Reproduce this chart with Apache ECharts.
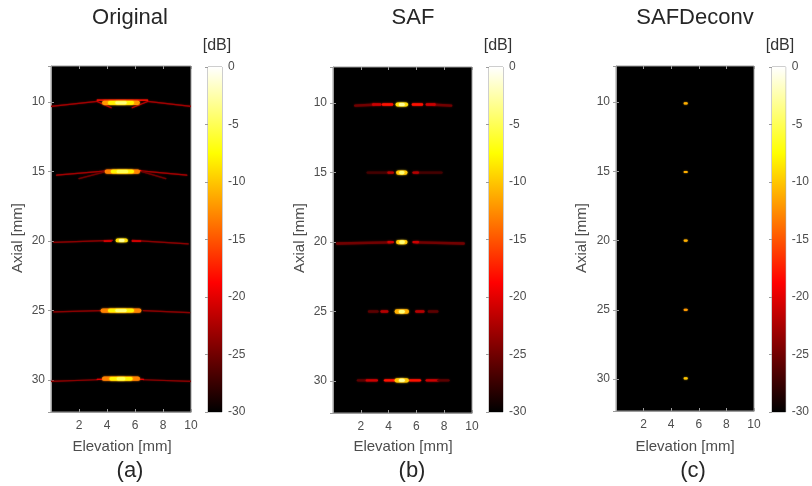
<!DOCTYPE html>
<html>
<head>
<meta charset="utf-8">
<script src="https://cdn.jsdelivr.net/npm/echarts@6/dist/echarts.min.js"></script>
<style>
  html, body { margin: 0; padding: 0; background: #ffffff; }
  #chart { width: 812px; height: 486px; }
</style>
</head>
<body>
<div id="chart"></div>
<script>
// Hot colour map, evenly spaced from -30 dB (black) up to 0 dB (white)
const hotColors = ['#000000', '#550000', '#aa0000', '#ff0000', '#ff5500', '#ffaa00', '#ffff00', '#ffff80', '#ffffff'];
const dbRange = [-30, 0];
const elevationRange = [0, 10];
const axialRange = [7.4, 32.3];

const panelTitles = ['Original', 'SAF', 'SAFDeconv'];
const panelCaptions = ['(a)', '(b)', '(c)'];

// Every feature is a streak in mm: [elevation1, axial1, elevation2, axial2, level dB]

// Original: side-lobe tails and wings around each point target
const originalTails = [
  [0.0, 10.30, 3.3, 9.95, -23], [6.9, 9.95, 10.0, 10.30, -23],
  [3.3, 9.95, 4.3, 10.40, -22], [6.9, 9.95, 5.8, 10.40, -22],
  [3.3, 9.85, 6.9, 9.85, -18],
  [0.4, 15.25, 4.0, 14.95, -23], [6.4, 14.95, 9.7, 15.25, -23],
  [2.0, 15.50, 3.9, 15.00, -25], [6.5, 15.00, 8.2, 15.50, -25],
  [3.9, 14.92, 6.4, 14.92, -19],
  [0.2, 20.10, 4.4, 19.95, -24], [5.8, 19.95, 9.8, 20.20, -24],
  [3.8, 20.00, 4.3, 20.00, -20], [5.8, 20.00, 6.4, 20.00, -20],
  [0.2, 25.10, 3.6, 25.00, -24], [6.6, 25.00, 9.9, 25.15, -24],
  [0.0, 30.10, 3.3, 29.98, -24], [6.6, 29.98, 10.0, 30.10, -24],
  [3.3, 29.95, 6.6, 29.95, -20]
];
// Original: main lobes, broad to narrow
const originalCores = [
  [3.8, 10.05, 6.2, 10.05, -12], [4.2, 10.05, 5.8, 10.05, -8], [4.7, 10.05, 5.3, 10.05, -4],
  [4.0, 15.00, 6.2, 15.00, -13], [4.4, 15.00, 5.8, 15.00, -8], [4.8, 15.00, 5.4, 15.00, -5],
  [4.75, 19.95, 5.35, 19.95, -9], [4.95, 19.95, 5.15, 19.95, -3],
  [3.7, 25.00, 6.3, 25.00, -13], [4.2, 25.00, 5.8, 25.00, -8], [4.7, 25.00, 5.3, 25.00, -4],
  [3.8, 29.90, 6.2, 29.90, -13], [4.3, 29.90, 5.7, 29.90, -8], [4.8, 29.90, 5.2, 29.90, -5]
];

// SAF: grating lobes either side of each target
const safLobes = [
  [1.6, 10.18, 2.9, 10.12, -25], [7.3, 10.12, 8.5, 10.18, -25],
  [2.9, 10.10, 3.4, 10.10, -21], [3.6, 10.10, 4.25, 10.10, -18],
  [5.75, 10.10, 6.4, 10.10, -18], [6.75, 10.10, 7.3, 10.10, -21],
  [2.5, 15.00, 4.0, 15.00, -27], [6.0, 15.00, 7.8, 15.00, -27],
  [4.0, 15.00, 4.3, 15.00, -22], [5.8, 15.00, 6.1, 15.00, -22],
  [0.3, 20.10, 4.1, 20.02, -25], [6.0, 20.02, 9.4, 20.10, -25],
  [4.0, 20.00, 4.3, 20.00, -21], [5.8, 20.00, 6.1, 20.00, -21],
  [2.6, 25.00, 3.2, 25.00, -26], [3.5, 25.00, 3.9, 25.00, -22],
  [6.0, 25.00, 6.5, 25.00, -22], [6.9, 25.00, 7.5, 25.00, -26],
  [1.8, 29.95, 2.4, 29.95, -26], [2.45, 29.95, 3.15, 29.95, -21],
  [3.75, 29.95, 4.45, 29.95, -18], [5.55, 29.95, 6.25, 29.95, -18],
  [6.75, 29.95, 7.55, 29.95, -21], [7.6, 29.95, 8.3, 29.95, -26]
];
// SAF: focused main lobes
const safCores = [
  [4.65, 10.10, 5.25, 10.10, -9], [4.85, 10.10, 5.05, 10.10, -3],
  [4.7, 15.00, 5.2, 15.00, -10], [4.88, 15.00, 5.02, 15.00, -4],
  [4.7, 20.00, 5.2, 20.00, -10], [4.88, 20.00, 5.05, 20.00, -4],
  [4.6, 25.00, 5.3, 25.00, -11], [4.85, 25.00, 5.05, 25.00, -4],
  [4.6, 29.95, 5.3, 29.95, -10], [4.85, 29.95, 5.05, 29.95, -3]
];

// SAF with deconvolution: compact point responses
const deconvDots = [
  [4.98, 10.10, 5.12, 10.10, -11],
  [4.98, 15.05, 5.12, 15.05, -11],
  [4.98, 20.00, 5.12, 20.00, -11],
  [4.98, 25.00, 5.12, 25.00, -12],
  [4.98, 29.95, 5.12, 29.95, -10]
];

const FONT = '"Liberation Sans", Arial, Helvetica, sans-serif';
const AXIS_GREY = '#9c9c9c';
const LABEL_GREY = '#4d4d4d';
const TITLE_GREY = '#262626';

// Panel layout (pixels)
const layouts = [
  { plot: { left: 51, top: 66, width: 140, height: 346 }, bar: { left: 208, top: 67, width: 14, height: 345 },
    title: [130, 18], db: [217, 46], axial: [18, 238], elev: [122, 447], cap: [130, 471] },
  { plot: { left: 333, top: 67, width: 139, height: 346 }, bar: { left: 489, top: 67, width: 14, height: 345 },
    title: [413, 18], db: [498, 46], axial: [300, 238], elev: [403, 447], cap: [412, 471] },
  { plot: { left: 616, top: 66, width: 138, height: 345 }, bar: { left: 772, top: 67, width: 14, height: 345 },
    title: [695, 18], db: [780, 46], axial: [582, 238], elev: [685, 447], cap: [693, 471] }
];

const panelFeatures = [
  [{ data: originalTails, width: () => 1.2, blur: 1.5 },
   { data: originalCores, width: (db) => 2.2 + (-db) / 6, blur: 2 }],
  [{ data: safLobes, width: () => 2.4, blur: 2 },
   { data: safCores, width: (db) => 2.4 + (-db) / 5, blur: 2 }],
  [{ data: deconvDots, width: () => 2.2, blur: 1.5 }]
];

function streakRenderer(widthFn, blur) {
  return function (params, api) {
    const p1 = api.coord([api.value(0), api.value(1)]);
    const p2 = api.coord([api.value(2), api.value(3)]);
    const color = api.visual('color');
    return {
      type: 'line',
      shape: { x1: p1[0], y1: p1[1], x2: p2[0], y2: p2[1] },
      style: { stroke: color, lineWidth: widthFn(api.value(4)), lineCap: 'round', shadowBlur: blur, shadowColor: color }
    };
  };
}

const colorbarGradient = hotColors.map((c, i) => ({ offset: i / (hotColors.length - 1), color: c }));

function colorbarRenderer(params, api) {
  const top = api.coord([0, api.value(1)]);
  const bottom = api.coord([1, api.value(0)]);
  return {
    type: 'rect',
    shape: { x: top[0], y: top[1], width: bottom[0] - top[0], height: bottom[1] - top[1] },
    style: { fill: new echarts.graphic.LinearGradient(0, 1, 0, 0, colorbarGradient) }
  };
}

const grids = [], xAxes = [], yAxes = [], series = [], graphics = [], featureSeries = [];
const tickStyle = { lineStyle: { color: AXIS_GREY, width: 1 } };
const labelStyle = { color: LABEL_GREY, fontSize: 12, fontFamily: FONT };

layouts.forEach((L, i) => {
  grids.push(Object.assign({ show: true, backgroundColor: '#000000', borderColor: AXIS_GREY, borderWidth: 1 }, L.plot));
  grids.push(Object.assign({ show: true, backgroundColor: 'transparent', borderColor: AXIS_GREY, borderWidth: 1 }, L.bar));
  const g = 2 * i, gb = 2 * i + 1;

  // plot: bottom and top elevation axes
  xAxes.push({ type: 'value', gridIndex: g, position: 'bottom', min: elevationRange[0], max: elevationRange[1], interval: 2,
    axisLine: { show: true, onZero: false, lineStyle: { color: AXIS_GREY } },
    axisTick: Object.assign({ inside: true, length: 3 }, tickStyle),
    axisLabel: Object.assign({ margin: 8, showMinLabel: false }, labelStyle), splitLine: { show: false } });
  xAxes.push({ type: 'value', gridIndex: g, position: 'top', min: elevationRange[0], max: elevationRange[1], interval: 2,
    axisLine: { show: false }, axisTick: Object.assign({ inside: true, length: 3 }, tickStyle),
    axisLabel: { show: false }, splitLine: { show: false } });
  // colorbar x (hidden)
  xAxes.push({ type: 'value', gridIndex: gb, min: 0, max: 1, show: false });

  // plot: left and right axial axes
  yAxes.push({ type: 'value', gridIndex: g, position: 'left', inverse: true, min: axialRange[0], max: axialRange[1], splitNumber: 5,
    axisLine: { show: true, onZero: false, lineStyle: { color: AXIS_GREY } },
    axisTick: Object.assign({ inside: true, length: 3 }, tickStyle),
    axisLabel: Object.assign({ margin: 6, showMinLabel: false, showMaxLabel: false,
      formatter: (v) => (Math.abs(v % 5) < 1e-6 ? String(v) : '') }, labelStyle),
    splitLine: { show: false } });
  yAxes.push({ type: 'value', gridIndex: g, position: 'right', inverse: true, min: axialRange[0], max: axialRange[1], splitNumber: 5,
    axisLine: { show: false }, axisTick: Object.assign({ inside: true, length: 3 }, tickStyle),
    axisLabel: { show: false }, splitLine: { show: false } });
  // colorbar dB axis
  yAxes.push({ type: 'value', gridIndex: gb, position: 'right', min: dbRange[0], max: dbRange[1], interval: 5,
    axisLine: { show: false }, axisTick: Object.assign({ inside: true, length: 3 }, tickStyle),
    axisLabel: Object.assign({ margin: 6 }, labelStyle), splitLine: { show: false } });

  panelFeatures[i].forEach((f) => {
    featureSeries.push(series.length);
    series.push({ type: 'custom', xAxisIndex: 3 * i, yAxisIndex: 3 * i, clip: true, silent: true,
      encode: { x: [0, 2], y: [1, 3] }, data: f.data, renderItem: streakRenderer(f.width, f.blur) });
  });
  series.push({ type: 'custom', xAxisIndex: 3 * i + 2, yAxisIndex: 3 * i + 2, silent: true,
    encode: { y: [0, 1] }, data: [dbRange], renderItem: colorbarRenderer });

  const text = (content, pos, size, color, rotation) => ({
    type: 'text', x: pos[0], y: pos[1], rotation: rotation || 0, silent: true,
    style: { text: content, fontSize: size, fontFamily: FONT, fill: color, align: 'center', verticalAlign: 'middle' }
  });
  graphics.push(text(panelTitles[i], L.title, 22, TITLE_GREY));
  graphics.push(text('[dB]', L.db, 16, '#333333'));
  graphics.push(text('Axial [mm]', L.axial, 15, LABEL_GREY, Math.PI / 2));
  graphics.push(text('Elevation [mm]', L.elev, 15, LABEL_GREY));
  graphics.push(text(panelCaptions[i], L.cap, 22, TITLE_GREY));
});

const chart = echarts.init(document.getElementById('chart'), null, { renderer: 'canvas' });
chart.setOption({
  backgroundColor: '#ffffff',
  animation: false,
  grid: grids,
  xAxis: xAxes,
  yAxis: yAxes,
  visualMap: [{ type: 'continuous', show: false, min: dbRange[0], max: dbRange[1], dimension: 4,
    seriesIndex: featureSeries, inRange: { color: hotColors } }],
  series: series,
  graphic: graphics
});
</script>
</body>
</html>
